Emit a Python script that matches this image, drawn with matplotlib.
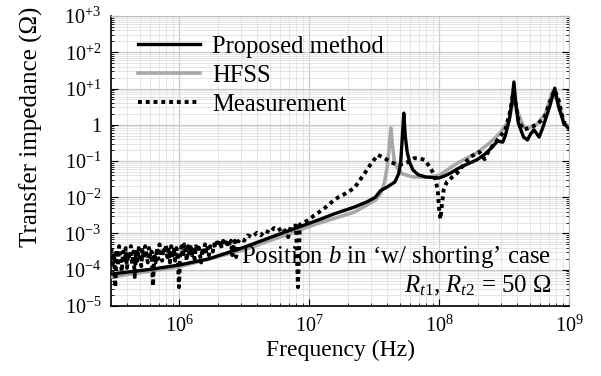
import numpy as np
from matplotlib import pyplot as plt
from matplotlib.ticker import FixedLocator, FixedFormatter, LogLocator, NullFormatter

plt.rcParams['font.family'] = ['Liberation Serif', 'DejaVu Serif']
plt.rcParams['mathtext.fontset'] = 'custom'
plt.rcParams['mathtext.rm'] = 'Liberation Serif'
plt.rcParams['mathtext.it'] = 'Liberation Serif:italic'

# curves: log10(frequency in Hz), log10(|Z| in ohm)
prop_logf = [5.477, 5.8, 6.0, 6.23, 6.5, 6.8, 7.07, 7.2, 7.35, 7.45, 7.51, 7.55, 7.6, 7.66,
             7.69, 7.705, 7.715, 7.729, 7.74, 7.755, 7.775, 7.8, 7.84, 7.9, 8.0, 8.05, 8.09,
             8.15, 8.22, 8.29, 8.35, 8.40, 8.45, 8.49, 8.51, 8.54, 8.56, 8.576, 8.59, 8.61,
             8.65, 8.68, 8.705, 8.73, 8.77, 8.80, 8.85, 8.89, 8.92, 8.96, 9.0]
prop_logz = [-4.12, -3.98, -3.87, -3.7, -3.38, -2.98, -2.63, -2.45, -2.27, -2.12, -2.0, -1.82,
             -1.72, -1.58, -1.35, -1.05, -0.5, 0.32, -0.3, -0.75, -1.05, -1.25, -1.38, -1.44,
             -1.47, -1.4, -1.33, -1.2, -1.08, -0.97, -0.82, -0.65, -0.45, -0.48, -0.3, 0.13,
             0.6, 1.18, 0.6, 0.05, -0.34, -0.42, -0.25, -0.14, -0.34, -0.06, 0.49, 1.01, 0.49,
             0.05, -0.12]

hfss_logf = [5.477, 6.0, 6.5, 7.07, 7.35, 7.51, 7.55, 7.58, 7.60, 7.615, 7.63, 7.64, 7.655,
             7.68, 7.72, 7.8, 7.9, 8.0, 8.14, 8.29, 8.39, 8.47, 8.54, 8.576, 8.6, 8.65, 8.69,
             8.75, 8.82, 8.87, 8.92, 8.96, 9.0]
hfss_logz = [-4.2, -3.92, -3.45, -2.72, -2.41, -2.08, -1.9, -1.6, -1.2, -0.7, -0.09, -0.5,
             -0.97, -1.2, -1.36, -1.44, -1.45, -1.4, -1.06, -0.78, -0.5, -0.23, 0.13, 0.77,
             0.41, -0.06, -0.09, 0.0, 0.32, 0.9, 0.6, 0.05, -0.05]

meas_logf = [5.48, 5.49, 5.50, 5.51, 5.52, 5.53, 5.54, 5.55, 5.56, 5.57,
             5.58, 5.59, 5.60, 5.61, 5.62, 5.63, 5.64, 5.65, 5.66, 5.67,
             5.68, 5.69, 5.70, 5.71, 5.72, 5.73, 5.74, 5.75, 5.76, 5.77,
             5.78, 5.79, 5.80, 5.81, 5.82, 5.83, 5.84, 5.85, 5.86, 5.87,
             5.88, 5.89, 5.90, 5.91, 5.92, 5.93, 5.94, 5.95, 5.96, 5.97,
             5.98, 5.99, 6.00, 6.01, 6.02, 6.03, 6.04, 6.05, 6.06, 6.07,
             6.08, 6.09, 6.10, 6.11, 6.12, 6.13, 6.14, 6.15, 6.16, 6.17,
             6.18, 6.19, 6.20, 6.21, 6.22, 6.23, 6.24, 6.25, 6.26, 6.27,
             6.28, 6.29, 6.30, 6.31, 6.32, 6.33, 6.34, 6.35, 6.36, 6.37,
             6.38, 6.39, 6.40, 6.41, 6.42, 6.43, 6.44, 6.45,
             6.47, 6.50, 6.53, 6.56, 6.60, 6.63, 6.66, 6.70, 6.73, 6.76, 6.80, 6.84, 6.86,
             6.90, 6.915, 6.93, 6.97, 7.0, 7.04, 7.07, 7.12, 7.17, 7.225, 7.28, 7.35, 7.43,
             7.48, 7.53, 7.58, 7.63, 7.68, 7.72, 7.76, 7.81, 7.85, 7.89, 7.93, 7.965, 7.99,
             8.0, 8.011, 8.02, 8.035, 8.06, 8.1, 8.14, 8.19, 8.24, 8.31, 8.35, 8.385, 8.45,
             8.51, 8.55, 8.57, 8.585, 8.61, 8.65, 8.69, 8.75, 8.81, 8.85, 8.89, 8.92, 8.96,
             9.0]
meas_logz = [-3.40, -3.85, -3.55, -4.48, -3.45, -3.90, -3.35, -3.75, -4.05, -3.50,
             -3.80, -3.40, -3.95, -3.55, -3.70, -3.35, -3.85, -3.50, -4.20, -3.45,
             -3.75, -3.40, -3.65, -3.90, -3.45, -3.70, -3.35, -3.60, -3.80, -3.40,
             -3.65, -3.50, -4.45, -3.55, -3.80, -3.40, -3.70, -3.30, -3.60, -3.75,
             -3.40, -3.55, -3.30, -3.65, -3.45, -3.80, -3.35, -3.60, -3.45, -3.75,
             -3.40, -3.60, -4.48, -3.50, -3.35, -3.65, -3.30, -3.50, -3.75, -3.35,
             -3.55, -3.30, -3.60, -3.40, -3.70, -3.35, -3.50, -3.30, -3.55, -3.80,
             -3.40, -3.50, -3.30, -3.55, -3.40, -3.60, -3.35, -3.45, -3.50, -3.30,
             -3.40, -3.25, -3.35, -3.20, -3.30, -3.40, -3.20, -3.30, -3.15, -3.30,
             -3.20, -3.35, -3.20, -3.60, -3.30, -3.20, -3.65, -3.25,
             -3.15, -3.20, -3.05, -3.10, -2.98, -3.05, -2.92, -2.98, -2.85, -2.92, -2.83,
             -3.10, -2.80, -2.78, -4.48, -2.75, -2.68, -2.62, -2.50, -2.43, -2.30, -2.15,
             -2.00, -1.90, -1.74, -1.33, -1.06, -0.83, -0.92, -1.03, -1.11, -1.08, -1.03,
             -0.92, -0.93, -0.97, -1.17, -1.39, -1.80, -2.30, -2.60, -2.30, -1.80, -1.58,
             -1.45, -1.33, -1.10, -0.89, -0.75, -0.95, -0.70, -0.42, -0.14, 0.41, 0.88,
             0.68, 0.13, -0.14, -0.09, 0.0, 0.19, 0.60, 0.96, 0.68, 0.05, 0.0]

ytick_vals = [1e-5, 1e-4, 1e-3, 1e-2, 1e-1, 1, 1e1, 1e2, 1e3]
ytick_labels = [r'$\mathregular{10^{-5}}$', r'$\mathregular{10^{-4}}$', r'$\mathregular{10^{-3}}$',
                r'$\mathregular{10^{-2}}$', r'$\mathregular{10^{-1}}$', '1',
                r'$\mathregular{10^{+1}}$', r'$\mathregular{10^{+2}}$', r'$\mathregular{10^{+3}}$']
xtick_vals = [1e6, 1e7, 1e8, 1e9]
xtick_labels = [r'$\mathregular{10^{6}}$', r'$\mathregular{10^{7}}$',
                r'$\mathregular{10^{8}}$', r'$\mathregular{10^{9}}$']

fig = plt.figure(figsize=(6.01, 3.76), dpi=100)
ax = fig.add_axes([0.1847, 0.1862, 0.7621, 0.7712])

ax.plot(10 ** np.array(hfss_logf), 10 ** np.array(hfss_logz), color='#a8a8a8', lw=2.6,
        label='HFSS', zorder=3)
ax.plot(10 ** np.array(prop_logf), 10 ** np.array(prop_logz), color='black', lw=2.4,
        label='Proposed method', zorder=4)
ax.plot(10 ** np.array(meas_logf), 10 ** np.array(meas_logz), color='black', lw=2.8,
        ls=(0, (1, 1)), label='Measurement', zorder=5)

ax.set_xscale('log')
ax.set_yscale('log')
ax.set_xlim(3e5, 1e9)
ax.set_ylim(1e-5, 1e3)

ax.yaxis.set_major_locator(FixedLocator(ytick_vals))
ax.yaxis.set_major_formatter(FixedFormatter(ytick_labels))
ax.xaxis.set_major_locator(FixedLocator(xtick_vals))
ax.xaxis.set_major_formatter(FixedFormatter(xtick_labels))
ax.xaxis.set_minor_locator(LogLocator(base=10, subs=np.arange(2, 10), numticks=20))
ax.yaxis.set_minor_locator(LogLocator(base=10, subs=np.arange(2, 10), numticks=20))
ax.xaxis.set_minor_formatter(NullFormatter())
ax.yaxis.set_minor_formatter(NullFormatter())

ax.grid(True, which='major', color='#c8c8c8', lw=0.9)
ax.grid(True, which='minor', color='#e0e0e0', lw=0.6)
ax.set_axisbelow(True)

ax.tick_params(which='both', direction='in', right=True, top=False, labelsize=14.5)
ax.tick_params(axis='y', which='major', pad=7)
ax.tick_params(axis='x', which='major', pad=7)
ax.tick_params(which='major', length=5)
ax.tick_params(which='minor', length=2.5)
for side in ['top', 'right']:
    ax.spines[side].set_color('#bbbbbb')
for side in ['left', 'bottom']:
    ax.spines[side].set_linewidth(1.2)

ax.set_xlabel('Frequency (Hz)', fontsize=17, labelpad=2)
ax.set_ylabel('Transfer impedance (Ω)', fontsize=18)
ax.yaxis.set_label_coords(-0.148, 0.617)

h, l = ax.get_legend_handles_labels()
order = [1, 0, 2]
ax.legend([h[i] for i in order], [l[i] for i in order], loc='upper left', frameon=False,
          fontsize=17.7, handlelength=2.5, handletextpad=0.5, labelspacing=0.28,
          borderaxespad=0.4, bbox_to_anchor=(0.017, 1.0))

ax.text(0.961, 0.169, 'Position $b$ in \u2018w/ shorting\u2019 case', transform=ax.transAxes,
        ha='right', va='center', fontsize=17.8)
ax.text(0.961, 0.069, r'$R_{t1}$, $R_{t2}$ = 50 Ω', transform=ax.transAxes,
        ha='right', va='center', fontsize=17.8)

plt.savefig('out.png', dpi=100)
